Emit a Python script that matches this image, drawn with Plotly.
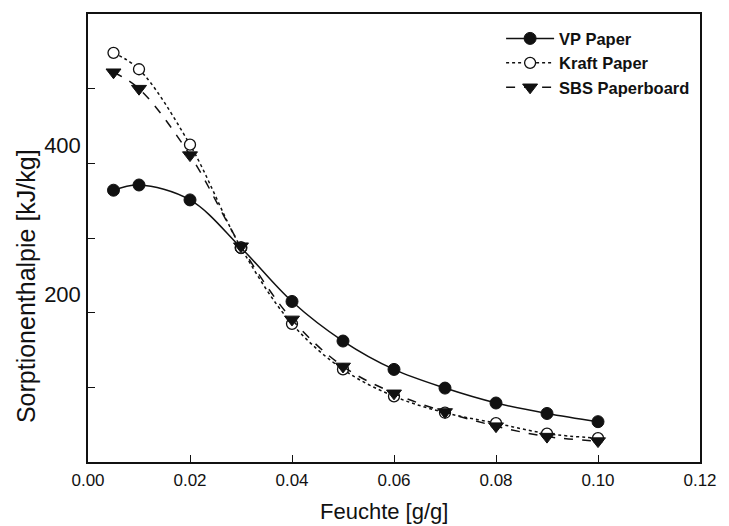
import plotly.graph_objects as go

moisture = [0.005, 0.01, 0.02, 0.03, 0.04, 0.05, 0.06, 0.07, 0.08, 0.09, 0.10]
vp_paper = [364, 371, 351, 287, 215, 162, 124, 99, 79, 65, 54]
kraft_paper = [548, 526, 425, 287, 185, 124, 88, 66, 52, 38, 32]
sbs_paperboard = [522, 500, 411, 289, 191, 128, 92, 67, 48, 34, 28]

x_ticks = [0.0, 0.02, 0.04, 0.06, 0.08, 0.10, 0.12]
x_ticktext = ["0.00", "0.02", "0.04", "0.06", "0.08", "0.10", "0.12"]
y_ticks = [100, 200, 300, 400, 500]
y_ticktext = ["", "200", "", "400", ""]

x_title = "Feuchte [g/g]"
y_title = "Sorptionenthalpie [kJ/kg]"

font_family = "Liberation Sans, Arial, sans-serif"
ink = "#111111"

fig = go.Figure()
fig.add_trace(go.Scatter(
    x=moisture, y=vp_paper, name="VP Paper", mode="lines+markers",
    line=dict(color=ink, width=1.5, shape="spline", smoothing=1.0),
    marker=dict(symbol="circle", size=12, color=ink, line=dict(color=ink, width=1)),
))
fig.add_trace(go.Scatter(
    x=moisture, y=kraft_paper, name="Kraft Paper", mode="lines+markers",
    line=dict(color=ink, width=1.5, dash="dot", shape="spline", smoothing=1.0),
    marker=dict(symbol="circle", size=11, color="white", line=dict(color=ink, width=1.3)),
))
fig.add_trace(go.Scatter(
    x=moisture, y=sbs_paperboard, name="SBS Paperboard", mode="lines+markers",
    line=dict(color=ink, width=1.5, dash="dash", shape="spline", smoothing=1.0),
    marker=dict(symbol="triangle-down", size=13, color=ink, line=dict(color=ink, width=1)),
))

fig.update_layout(
    width=729, height=526,
    margin=dict(l=88, r=18, t=12, b=64),
    paper_bgcolor="white", plot_bgcolor="white",
    font=dict(family=font_family, color=ink),
    showlegend=True,
    legend=dict(
        x=0.675, y=0.984, xanchor="left", yanchor="top",
        bgcolor="rgba(0,0,0,0)", borderwidth=0,
        font=dict(family=font_family, size=16.5, color=ink, weight="bold"),
        itemwidth=48, tracegroupgap=0,
    ),
    xaxis=dict(
        range=[0, 0.12], tickvals=x_ticks, ticktext=x_ticktext,
        ticks="inside", ticklen=7, tickwidth=1.3, tickcolor=ink,
        showline=True, linecolor=ink, linewidth=1.5, mirror=True,
        showgrid=False, zeroline=False,
        tickfont=dict(size=17, family=font_family),
        ticklabelstandoff=2,
    ),
    yaxis=dict(
        range=[0, 600], tickvals=y_ticks, ticktext=y_ticktext,
        ticks="inside", ticklen=7, tickwidth=1.3, tickcolor=ink,
        showline=True, linecolor=ink, linewidth=1.5, mirror=True,
        showgrid=False, zeroline=False,
        tickfont=dict(size=22, family=font_family),
        ticklabelshift=-18, ticklabelstandoff=1,
    ),
    annotations=[
        dict(text=x_title, xref="paper", yref="paper", x=0.483, y=-0.111,
             xanchor="center", yanchor="middle", showarrow=False,
             font=dict(size=22, family=font_family, color=ink)),
        dict(text=y_title, xref="paper", yref="paper", x=-0.101, y=0.393,
             xanchor="center", yanchor="middle", showarrow=False, textangle=-90,
             font=dict(size=25, family=font_family, color=ink)),
    ],
)

fig.write_html("out.html")
